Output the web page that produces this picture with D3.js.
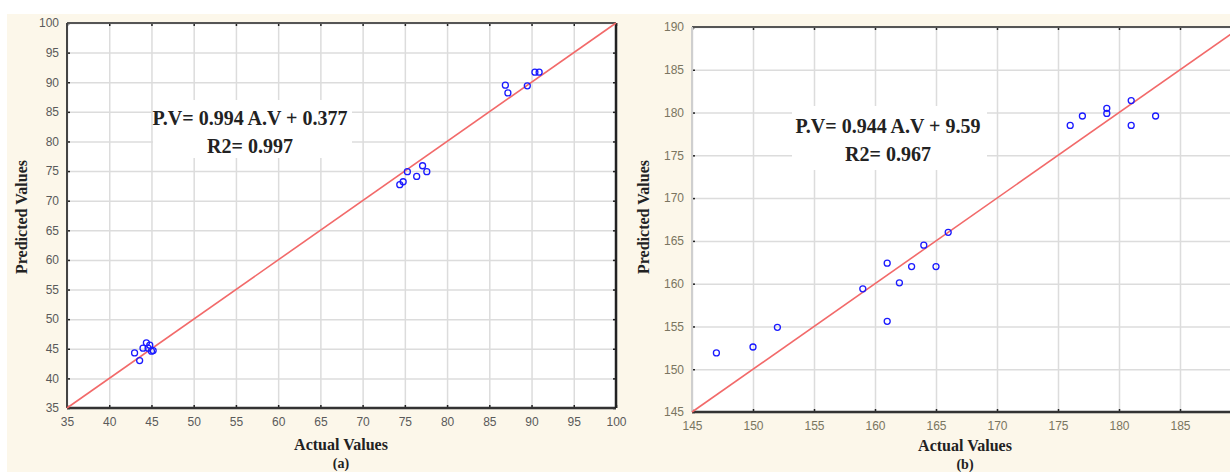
<!DOCTYPE html>
<html>
<head>
<meta charset="utf-8">
<script src="https://cdn.jsdelivr.net/npm/d3@7"></script>
<style>
  body { margin: 0; background: #fff; }
  svg { display: block; }
  .tick text { font-family: "Liberation Sans", Arial, sans-serif; font-size: 12px; }
  .ttl { font-family: "Liberation Serif", "Times New Roman", serif; font-weight: bold; fill: #222; }
</style>
</head>
<body>
<svg id="chart" width="1230" height="472"></svg>
<script>
// panel (a)
const actualA = [43.0, 43.6, 44.0, 44.4, 44.8, 45.2, 44.6, 45.0,
  74.4, 74.8, 75.3, 76.4, 77.1, 77.6,
  86.9, 87.2, 89.5, 90.4, 90.9];
const predictedA = [44.3, 43.0, 45.1, 46.0, 45.6, 44.7, 45.1, 44.6,
  72.7, 73.2, 74.9, 74.1, 75.9, 74.9,
  89.5, 88.2, 89.4, 91.7, 91.7];
const domainA = [35, 100];
const xTicksA = d3.range(35, 101, 5);
const yTicksA = d3.range(35, 101, 5);
const eqA = ["P.V= 0.994 A.V + 0.377", "R2= 0.997"];

// panel (b)
const actualB = [147, 150, 152, 159, 161, 161, 162, 163, 164, 165, 166,
  176, 177, 179, 179, 181, 181, 183];
const predictedB = [151.9, 152.6, 154.9, 159.4, 162.4, 155.6, 160.1, 162.0, 164.5, 162.0, 166.0,
  178.5, 179.6, 180.5, 179.9, 181.4, 178.5, 179.6];
const domainB = [145, 190];
const xTicksB = d3.range(145, 186, 5);
const yTicksB = d3.range(145, 191, 5);
const eqB = ["P.V= 0.944 A.V + 9.59", "R2= 0.967"];

const svg = d3.select("#chart");

// cream backdrop behind both panels
svg.append("rect")
  .attr("x", 7).attr("y", 14)
  .attr("width", 1230 - 7).attr("height", 472 - 14)
  .attr("fill", "#fcf7ea");

function addPanel(opts) {
  const { left, top, right, bottom, domain, xTicks, yTicks, xs, ys, eq, eqBox, eqX, eqY, tag, labelColor, leftFrame } = opts;
  const w = right - left, h = bottom - top;
  const x = d3.scaleLinear().domain(domain).range([0, w]);
  const y = d3.scaleLinear().domain(domain).range([h, 0]);

  const g = svg.append("g").attr("transform", `translate(${left},${top})`);

  g.append("rect").attr("width", w).attr("height", h).attr("fill", "#fff");

  // grid
  g.append("g")
    .attr("transform", `translate(0,${h})`)
    .call(d3.axisBottom(x).tickValues(yTicks).tickSize(-h).tickFormat(""))
    .call(s => s.select(".domain").remove())
    .call(s => s.selectAll("line").attr("stroke", "#dcdcdc").attr("stroke-width", 1.5));
  g.append("g")
    .call(d3.axisLeft(y).tickValues(yTicks).tickSize(-w).tickFormat(""))
    .call(s => s.select(".domain").remove())
    .call(s => s.selectAll("line").attr("stroke", "#dcdcdc").attr("stroke-width", 1.5));

  // white box behind the equation
  g.append("rect")
    .attr("x", eqBox[0] - left).attr("y", eqBox[1] - top)
    .attr("width", eqBox[2] - eqBox[0]).attr("height", eqBox[3] - eqBox[1])
    .attr("fill", "#fff");

  // axes with labels
  const xAxis = g.append("g")
    .attr("transform", `translate(0,${h})`)
    .call(d3.axisBottom(x).tickValues(xTicks).tickSize(-3).tickPadding(9));
  const yAxis = g.append("g")
    .call(d3.axisLeft(y).tickValues(yTicks).tickSize(-3).tickPadding(8));
  [xAxis, yAxis].forEach(a => {
    a.select(".domain").remove();
    a.selectAll(".tick line").attr("stroke", "#222").attr("stroke-width", 1.5);
    a.selectAll(".tick text").attr("fill", labelColor);
  });
  // ticks on top & right
  g.append("g")
    .call(d3.axisTop(x).tickValues(xTicks).tickSize(-3).tickFormat(""))
    .call(s => s.select(".domain").remove())
    .call(s => s.selectAll("line").attr("stroke", "#222").attr("stroke-width", 1.5));
  g.append("g")
    .attr("transform", `translate(${w},0)`)
    .call(d3.axisRight(y).tickValues(yTicks).tickSize(-3).tickFormat(""))
    .call(s => s.select(".domain").remove())
    .call(s => s.selectAll("line").attr("stroke", "#222").attr("stroke-width", 1.5));

  // frame
  g.append("line").attr("x1", 0).attr("x2", w).attr("y1", 0).attr("y2", 0)
    .attr("stroke", "#555").attr("stroke-width", 2);
  g.append("line").attr("x1", 0).attr("x2", w).attr("y1", h).attr("y2", h)
    .attr("stroke", "#333").attr("stroke-width", 2.5);
  g.append("line").attr("x1", 0).attr("x2", 0).attr("y1", 0).attr("y2", h)
    .attr("stroke", leftFrame).attr("stroke-width", 2);
  g.append("line").attr("x1", w).attr("x2", w).attr("y1", 0).attr("y2", h)
    .attr("stroke", "#222").attr("stroke-width", 2.5);

  // 1:1 line
  g.append("line")
    .attr("x1", x(domain[0])).attr("y1", y(domain[0]))
    .attr("x2", x(domain[1])).attr("y2", y(domain[1]))
    .attr("stroke", "#f26a6a").attr("stroke-width", 1.6);

  // points
  g.append("g")
    .selectAll("circle")
    .data(d3.range(xs.length))
    .join("circle")
    .attr("cx", i => x(xs[i]))
    .attr("cy", i => y(ys[i]))
    .attr("r", 3)
    .attr("fill", "none")
    .attr("stroke", "#1a1aff")
    .attr("stroke-width", 1.3);

  // equation
  svg.selectAll(null)
    .data(eq)
    .join("text")
    .attr("class", "ttl")
    .attr("x", eqX)
    .attr("y", (d, i) => eqY + i * 28)
    .attr("text-anchor", "middle")
    .attr("font-size", 20)
    .text(d => d);

  // axis titles
  svg.append("text").attr("class", "ttl")
    .attr("x", opts.xTitleX).attr("y", opts.xTitleY)
    .attr("text-anchor", "middle").attr("font-size", 16)
    .text("Actual Values");
  svg.append("text").attr("class", "ttl")
    .attr("x", opts.xTitleX).attr("y", opts.tagY)
    .attr("text-anchor", "middle").attr("font-size", 14)
    .text(tag);
  svg.append("text").attr("class", "ttl")
    .attr("transform", `translate(${opts.yTitleX},217) rotate(-90)`)
    .attr("text-anchor", "middle").attr("font-size", 16)
    .text("Predicted Values");
}

addPanel({
  left: 67, top: 23, right: 616, bottom: 408,
  domain: domainA, xTicks: xTicksA, yTicks: yTicksA, xs: actualA, ys: predictedA,
  eq: eqA, eqBox: [153, 100, 352, 158], eqX: 250, eqY: 125,
  tag: "(a)", labelColor: "#5a5a5a", leftFrame: "#444",
  xTitleX: 341, xTitleY: 450, tagY: 468, yTitleX: 27
});

addPanel({
  left: 692, top: 27, right: 1241, bottom: 412,
  domain: domainB, xTicks: xTicksB, yTicks: yTicksB, xs: actualB, ys: predictedB,
  eq: eqB, eqBox: [792, 106, 987, 170], eqX: 888, eqY: 133,
  tag: "(b)", labelColor: "#7a7560", leftFrame: "#cfcfcf",
  xTitleX: 965, xTitleY: 451, tagY: 469, yTitleX: 649
});
</script>
</body>
</html>
